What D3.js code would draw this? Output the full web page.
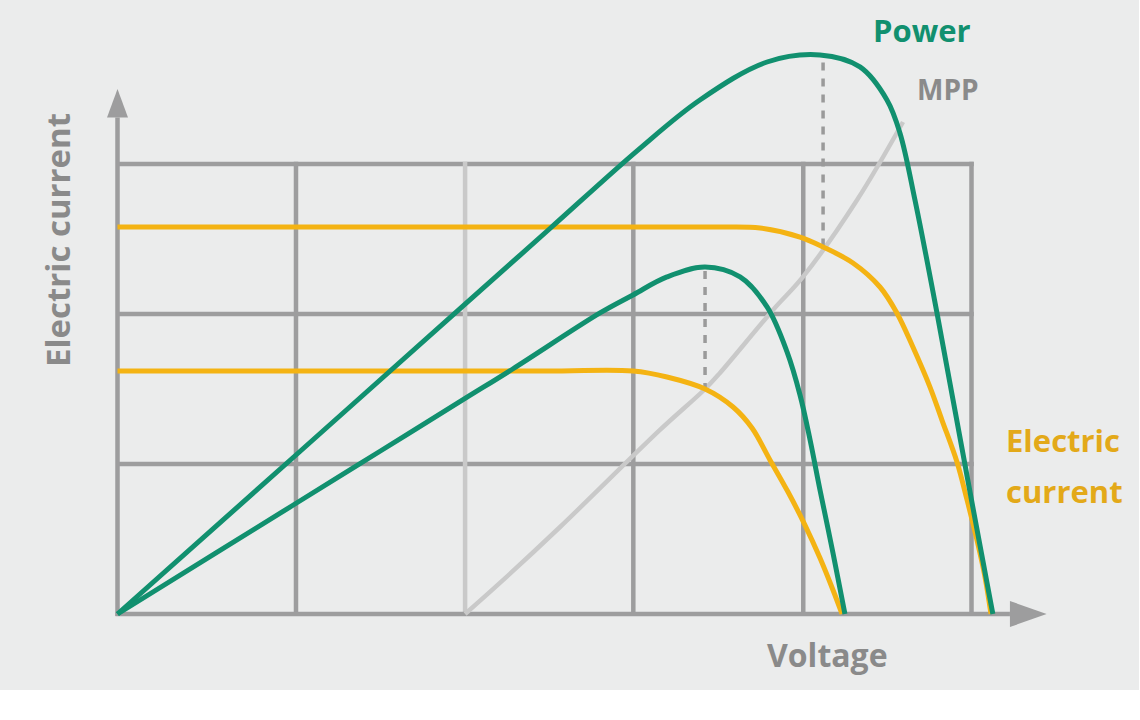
<!DOCTYPE html>
<html><head><meta charset="utf-8">
<script src="https://cdn.jsdelivr.net/npm/d3@7"></script>
<style>
html,body{margin:0;padding:0;background:#fff;}
svg{display:block;}
text{font-family:"Open Sans",sans-serif;font-weight:700;}
</style></head>
<body><svg id="c" width="1140" height="720"></svg>
<script>
// ---- data (Voltage units, Current units) ----
const gridVoltages = [0, 10.45, 20.35, 30.2, 40.15, 50];
const gridCurrents = [0, 10, 20, 30];
const lightGridVoltage = 20.35;

const currentHighV = [0, 30, 35.27, 37.62, 39.96, 41.31, 43.06, 44.64, 45.63, 46.57, 47.57, 48.27, 49.15, 49.74, 50.32, 50.79, 51.14];
const currentHighI = [25.8, 25.8, 25.8, 25.73, 25.13, 24.47, 23.4, 21.8, 20.07, 17.8, 15.13, 12.93, 10.13, 7.6, 4.93, 2.47, 0];

const currentLowV = [0, 25, 30.18, 32.17, 34.4, 36.04, 37.15, 38.2, 39.26, 40.25, 41.13, 41.89, 42.42];
const currentLowI = [16.2, 16.2, 16.2, 15.8, 15.0, 13.8, 12.4, 10.27, 8.13, 5.93, 3.73, 1.6, 0];

const powerHighV = [0, 10.45, 20.35, 25.32, 30.47, 34.1, 38.03, 41.13, 43.47, 45.05, 45.81, 46.69, 47.98, 48.92, 49.59, 50.0, 51.25];
const powerHighP = [0, 10.6, 20.66, 25.7, 30.93, 34.27, 36.8, 37.27, 36.47, 34.27, 32.07, 27.6, 20.07, 14.27, 10.13, 7.6, 0];

const powerLowV = [0, 10.27, 15.37, 20.35, 23.16, 28.25, 30.18, 32.17, 34.4, 36.45, 38.03, 39.2, 39.96, 40.55, 41.13, 41.89, 42.59];
const powerLowP = [0, 7.25, 10.85, 14.37, 16.35, 20.07, 21.27, 22.47, 23.13, 22.47, 20.47, 17.47, 14.6, 11.6, 8.27, 4.07, 0];

const mppV = [20.35, 22.39, 25.91, 31.76, 34.4, 35.27, 38.38, 40.13, 43.3, 45.99];
const mppI = [0, 2.07, 5.8, 12.27, 15.0, 16.07, 20.27, 22.47, 27.6, 32.8];

// MPP markers: voltage, power value at top, current value at bottom
const mppMarkV = [34.4, 41.31];
const mppMarkTop = [23.0, 36.9];
const mppMarkBottom = [15.0, 24.47];

const labels = {power: "Power", mpp: "MPP", current: ["Electric", "current"], xAxis: "Voltage", yAxis: "Electric current"};

// ---- drawing ----
const svg = d3.select("#c");
const x = d3.scaleLinear().domain([0, 50]).range([117.5, 971.5]);
const y = d3.scaleLinear().domain([0, 30]).range([614, 164]);

const GRID = "#9d9d9e", LIGHT = "#c9c9c9", GREEN = "#11906f", YEL = "#f4b313", YELT = "#e3a919", TXT = "#8a8a8a";

svg.append("rect").attr("width", 1139).attr("height", 690).attr("fill", "#ebecec");

const g = svg.append("g");
// horizontal grid
g.selectAll(".hg").data(gridCurrents.filter(d => d > 0)).join("line")
  .attr("x1", x(0)).attr("x2", x(50) + 2.25).attr("y1", d => y(d)).attr("y2", d => y(d))
  .attr("stroke", GRID).attr("stroke-width", 4.5);
// vertical grid
g.selectAll(".vg").data(gridVoltages.filter(d => d > 0)).join("line")
  .attr("x1", d => x(d)).attr("x2", d => x(d)).attr("y1", y(0)).attr("y2", y(30) - 2.25)
  .attr("stroke", d => d === lightGridVoltage ? LIGHT : GRID).attr("stroke-width", 4.5);

// axes with arrows
const yTop = 33.1, yTip = 35.0, xEnd = 52.25, xTip = 54.4;
g.append("line").attr("x1", x(0)).attr("x2", x(0)).attr("y1", y(0) + 2).attr("y2", y(yTop))
  .attr("stroke", GRID).attr("stroke-width", 4.5);
g.append("path").attr("fill", GRID)
  .attr("d", `M${x(0)},${y(yTip)}L${x(0) + 10.5},${y(yTop)}L${x(0) - 10.5},${y(yTop)}Z`);
g.append("line").attr("x1", x(0) - 2).attr("x2", x(xEnd)).attr("y1", y(0)).attr("y2", y(0))
  .attr("stroke", GRID).attr("stroke-width", 4.5);
g.append("path").attr("fill", GRID)
  .attr("d", `M${x(xTip)},${y(0)}L${x(xEnd)},${y(0) - 13}L${x(xEnd)},${y(0) + 13}Z`);

const line = d3.line().x(d => x(d[0])).y(d => y(d[1])).curve(d3.curveCatmullRom.alpha(0.5));
const zip = (a, b) => a.map((v, i) => [v, b[i]]);

// MPP curve
g.append("path").attr("d", line(zip(mppV, mppI))).attr("fill", "none")
  .attr("stroke", LIGHT).attr("stroke-width", 4.5).attr("stroke-linecap", "butt");

// dashed markers
g.selectAll(".dash").data(mppMarkV).join("line")
  .attr("x1", d => x(d)).attr("x2", d => x(d))
  .attr("y1", (d, i) => y(mppMarkTop[i]) + 2).attr("y2", (d, i) => y(mppMarkBottom[i]))
  .attr("stroke", "#9a9a9a").attr("stroke-width", 3.5).attr("stroke-dasharray", "8,8");

// currents
[zip(currentHighV, currentHighI), zip(currentLowV, currentLowI)].forEach(d => {
  g.append("path").attr("d", line(d)).attr("fill", "none").attr("stroke", YEL).attr("stroke-width", 5);
});
// powers
[zip(powerHighV, powerHighP), zip(powerLowV, powerLowP)].forEach(d => {
  g.append("path").attr("d", line(d)).attr("fill", "none").attr("stroke", GREEN).attr("stroke-width", 5);
});

// labels
svg.append("text").attr("x", 873).attr("y", 42).attr("fill", GREEN).attr("font-size", 31).text(labels.power);
svg.append("text").attr("x", 917).attr("y", 100).attr("fill", TXT).attr("font-size", 28).text(labels.mpp);
svg.append("text").attr("x", 1006).attr("y", 452).attr("fill", YELT).attr("font-size", 31).text(labels.current[0]);
svg.append("text").attr("x", 1006).attr("y", 503).attr("fill", YELT).attr("font-size", 31).text(labels.current[1]);
svg.append("text").attr("x", 767).attr("y", 667).attr("fill", TXT).attr("font-size", 32).text(labels.xAxis);
svg.append("text").attr("transform", "translate(70,367) rotate(-90)").attr("fill", TXT)
  .attr("font-size", 33).text(labels.yAxis);
</script></body></html>
